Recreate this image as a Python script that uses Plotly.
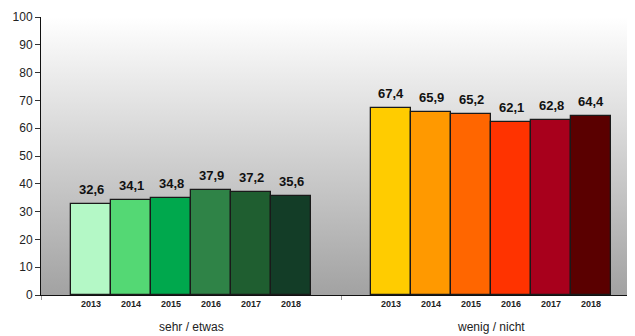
import base64
import plotly.graph_objects as go

# Daten
gruppen = ["sehr / etwas", "wenig / nicht"]
jahre = ["2013", "2014", "2015", "2016", "2017", "2018"]
werte_sehr = [32.6, 34.1, 34.8, 37.9, 37.2, 35.6]
werte_wenig = [67.4, 65.9, 65.2, 62.1, 62.8, 64.4]
farben_sehr = ["#b4f8c6", "#54d874", "#00a84d", "#2f8347", "#1f5e30", "#133d27"]
farben_wenig = ["#ffcc00", "#ff9900", "#ff6600", "#ff3300", "#a8001c", "#5a0000"]

gruppen_abstand = 7.5
fig = go.Figure()

for g, (werte, farben) in enumerate([(werte_sehr, farben_sehr), (werte_wenig, farben_wenig)]):
    xs = [g * gruppen_abstand + i for i in range(len(jahre))]
    fig.add_trace(go.Bar(
        x=xs, y=werte,
        marker=dict(color=farben, line=dict(color="#1a1a1a", width=1.3)),
        width=1,
        showlegend=False,
    ))
    # Wertbeschriftung
    for x, v in zip(xs, werte):
        fig.add_annotation(x=x, y=v, yanchor="bottom", yshift=5, showarrow=False,
                           text="<b>" + f"{v:.1f}".replace(".", ",") + "</b>",
                           font=dict(size=13, color="#111111"))

alle_x = [g * gruppen_abstand + i for g in range(len(gruppen)) for i in range(len(jahre))]

# Hintergrund mit Verlauf
svg = ('<svg xmlns="http://www.w3.org/2000/svg" width="10" height="100" preserveAspectRatio="none">'
       '<defs><linearGradient id="g" x1="0" y1="0" x2="0" y2="1">'
       '<stop offset="0" stop-color="#ffffff"/><stop offset="1" stop-color="#a2a2a2"/>'
       '</linearGradient></defs><rect width="10" height="100" fill="url(#g)"/></svg>')
src = "data:image/svg+xml;base64," + base64.b64encode(svg.encode()).decode()

x_range = [-1.25, 13.6]

# Seite hat ~8px Body-Rand, daher etwas kleiner
fig.update_layout(
    width=627, height=328,
    margin=dict(l=33, r=0, t=9, b=41),
    paper_bgcolor="white",
    plot_bgcolor="rgba(0,0,0,0)",
    bargap=0,
    font=dict(family="Liberation Sans, Arial", color="#222222"),
    images=[dict(source=src, xref="paper", yref="paper", x=0, y=1, sizex=1, sizey=1,
                 xanchor="left", yanchor="top", sizing="stretch", layer="below")],
    xaxis=dict(range=x_range, tickvals=alle_x, ticktext=jahre * 2, ticks="",
               tickfont=dict(size=9, color="#222222", weight="bold"),
               showline=True, linecolor="#111111", linewidth=1, showgrid=False,
               zeroline=False, automargin=False),
    xaxis2=dict(range=x_range, overlaying="x", side="bottom", anchor="y",
                tickvals=[-1.25, gruppen_abstand - 1.25], ticks="outside", ticklen=4,
                tickcolor="#999999", showticklabels=False, showline=False,
                showgrid=False, zeroline=False, automargin=False),
    yaxis=dict(range=[0, 100], dtick=10, ticks="outside", ticklen=5, tickcolor="#333333",
               showline=True, linecolor="#111111", linewidth=1, showgrid=False,
               zeroline=False, tickfont=dict(size=12, color="#222222"), automargin=False),
)

# unsichtbare Trace, damit xaxis2 gezeichnet wird
fig.add_trace(go.Scatter(x=[x_range[0]], y=[0], xaxis="x2", mode="markers",
                         marker=dict(opacity=0), showlegend=False, hoverinfo="skip"))

for g, name in enumerate(gruppen):
    fig.add_annotation(x=g * gruppen_abstand + 2.5, y=0, yref="y", yshift=-32,
                       text=name, showarrow=False, font=dict(size=12, color="#222222"))

fig.write_html("out.html")
